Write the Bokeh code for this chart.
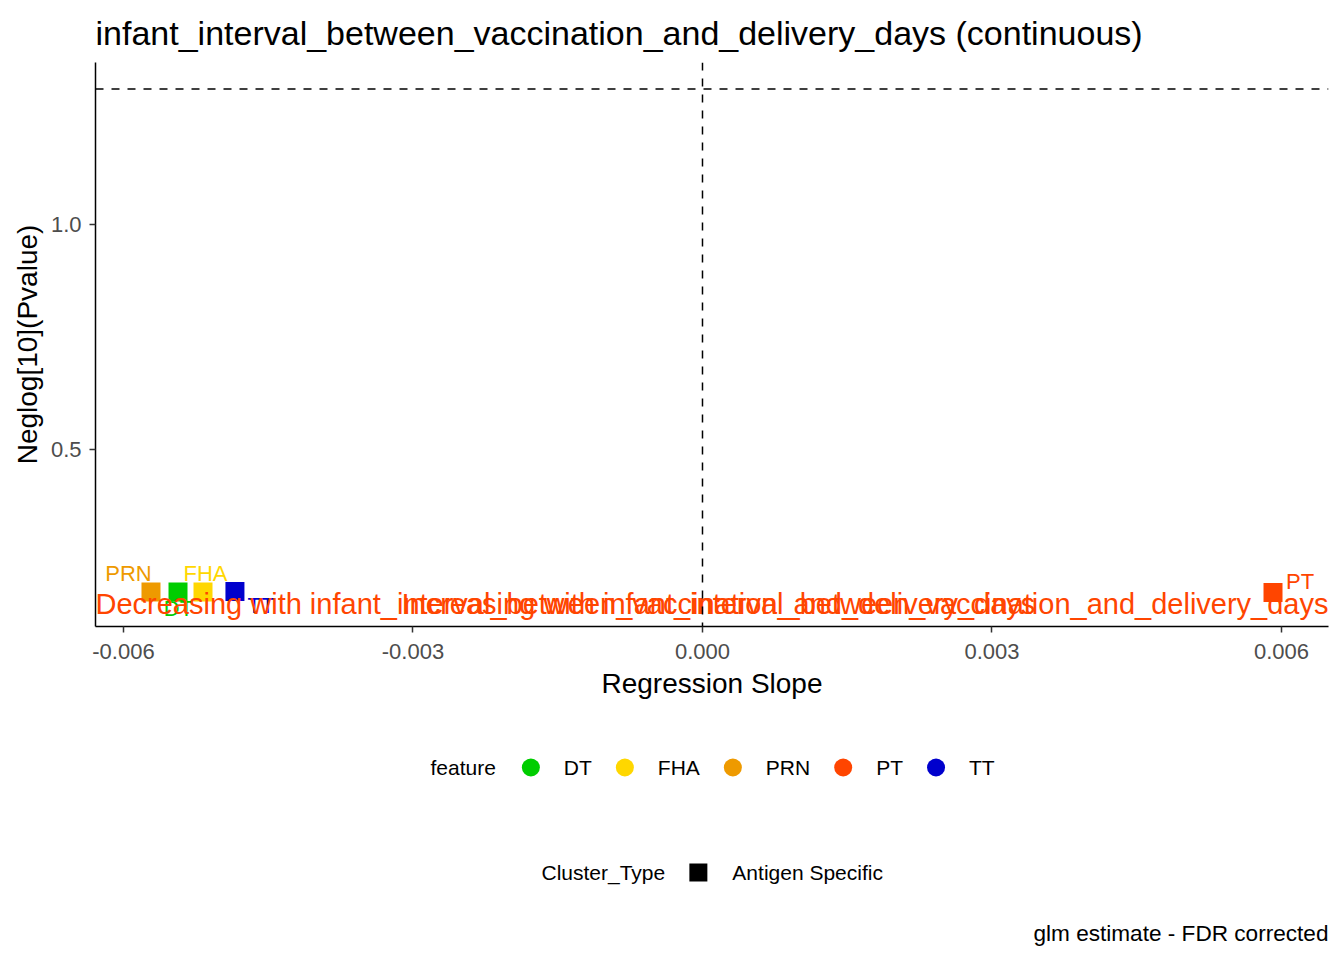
from bokeh.plotting import figure
from bokeh.models import Range1d, FixedTicker, Span, ColumnDataSource
from bokeh.layouts import column
from bokeh.embed import file_html
from bokeh.resources import INLINE
from bokeh.core.properties import value
import math

# ---- data ----
features = ["PRN", "DT", "FHA", "TT", "PT"]
slopes = [-0.005715, -0.005435, -0.005176, -0.004845, 0.005912]
neglog_p = [0.1833, 0.1833, 0.1833, 0.1845, 0.1822]
feature_colors = {"DT": "#00CD00", "FHA": "#FFD700", "PRN": "#EE9A00", "PT": "#FF4500", "TT": "#0000CD"}
legend_features = ["DT", "FHA", "PRN", "PT", "TT"]
x_ticks = [-0.006, -0.003, 0.0, 0.003, 0.006]
x_tick_labels = ["-0.006", "-0.003", "0.000", "0.003", "0.006"]
y_ticks = [0.5, 1.0]
y_tick_labels = ["0.5", "1.0"]
p_threshold = 0.05
var_name = "infant_interval_between_vaccination_and_delivery_days"
annot_y = 0.1556

# repel label offsets (screen px, y down) — layout only
label_dx = {"PRN": -22.5, "DT": 0.5, "FHA": 2.5, "TT": 26, "PT": 27}
label_dy = {"PRN": -18.5, "DT": 16.5, "FHA": -18.5, "TT": 14, "PT": -11}

FONT = "Liberation Sans"
W = 1336
FRAME_L, FRAME_R = 95, 1328
FRAME_T, FRAME_B = 62, 626
H1 = 708

x_range = Range1d(-0.00629, 0.006487)
y_range = Range1d(0.10667, 1.36)

p = figure(width=W, height=H1, x_range=x_range, y_range=y_range,
           output_backend="svg", toolbar_location=None,
           min_border_left=FRAME_L, min_border_right=W - FRAME_R,
           min_border_top=FRAME_T, min_border_bottom=H1 - FRAME_B)
p.title.text = f"{var_name} (continuous)"
p.title.text_font = FONT
p.title.text_font_size = "34px"
p.title.text_font_style = "normal"
p.title.text_color = "black"
p.title.align = "left"
p.title.standoff = 21
p.xgrid.visible = False
p.ygrid.visible = False
p.outline_line_color = None

p.xaxis.ticker = FixedTicker(ticks=x_ticks)
p.xaxis.major_label_overrides = {t: l for t, l in zip(x_ticks, x_tick_labels)}
p.yaxis.ticker = FixedTicker(ticks=y_ticks)
p.yaxis.major_label_overrides = {t: l for t, l in zip(y_ticks, y_tick_labels)}
for ax in (p.xaxis[0], p.yaxis[0]):
    ax.minor_tick_line_color = None
    ax.major_tick_in = 0
    ax.major_tick_out = 6
    ax.major_tick_line_color = "#333333"
    ax.major_tick_line_width = 1.5
    ax.axis_line_color = "black"
    ax.axis_line_width = 1.5
    ax.major_label_text_font = FONT
    ax.major_label_text_font_size = "22px"
    ax.major_label_text_color = "#4D4D4D"
    ax.axis_label_text_font = FONT
    ax.axis_label_text_font_size = "28px"
    ax.axis_label_text_font_style = "normal"
    ax.axis_label_text_color = "black"
p.xaxis.axis_label = "Regression Slope"
p.yaxis.axis_label = "Neglog[10](Pvalue)"
p.xaxis.major_label_standoff = 11
p.xaxis.axis_label_standoff = 6
p.yaxis.major_label_standoff = 8
p.yaxis.axis_label_standoff = 5

p.add_layout(Span(location=0, dimension="height", line_color="black", line_dash="8 8", line_width=1.5))
p.add_layout(Span(location=-math.log10(p_threshold), dimension="width", line_color="black", line_dash="8 8", line_width=1.5))

src = ColumnDataSource(dict(
    x=slopes, y=neglog_p, feature=features,
    color=[feature_colors[f] for f in features],
    dx=[label_dx[f] for f in features], dy=[label_dy[f] for f in features],
))
p.scatter("x", "y", source=src, marker="square", size=19, fill_color="color", line_color=None)
p.text("x", "y", text="feature", source=src, x_offset="dx", y_offset="dy",
       text_color="color", text_font=value(FONT), text_font_size="22px",
       text_align="center", text_baseline="middle")

p.text(x=[x_range.start], y=[annot_y], text=[f"Decreasing with {var_name}"],
       text_color="#FF4500", text_font=value(FONT), text_font_size="29px",
       text_align="left", text_baseline="middle")
p.text(x=[x_range.end], y=[annot_y], text=[f"Increasing with {var_name}"],
       text_color="#FF4500", text_font=value(FONT), text_font_size="29px",
       text_align="right", text_baseline="middle")

# ---- legend / caption panel (coordinates in page pixels) ----
H2 = 244
q = figure(width=W, height=H2, x_range=Range1d(FRAME_L, FRAME_R), y_range=Range1d(H1 + H2, H1),
           output_backend="svg", toolbar_location=None,
           min_border_left=FRAME_L, min_border_right=W - FRAME_R, min_border_top=0, min_border_bottom=0,
           outline_line_color=None)
q.axis.visible = False
q.grid.visible = False

ARIAL = {" ": 0.278, "_": 0.556, "f": 0.278, "t": 0.278, "i": 0.222, "l": 0.222, "r": 0.333,
         "v": 0.5, "y": 0.5, "c": 0.5, "s": 0.5, "k": 0.5, "x": 0.5, "z": 0.5, "w": 0.722, "m": 0.833,
         "D": 0.722, "T": 0.611, "F": 0.611, "H": 0.722, "A": 0.667, "P": 0.667, "R": 0.722,
         "N": 0.722, "C": 0.722, "S": 0.667}

def tw(s, size):
    return sum(ARIAL.get(c, 0.556) for c in s) * size

LEG_FS = 21
def ltext(x, y, s, size=LEG_FS, align="left"):
    q.text(x=[x], y=[y], text=[s], text_font=value(FONT), text_font_size=f"{size}px",
           text_align=align, text_baseline="middle", text_color="black")

row1_y = 767
x = 430
ltext(x, row1_y, "feature")
x += tw("feature", LEG_FS) + 35
for f in legend_features:
    q.scatter(x=[x], y=[row1_y], marker="circle", size=18, fill_color=feature_colors[f], line_color=None)
    ltext(x + 33, row1_y, f)
    x += 33 + tw(f, LEG_FS) + 33

row2_y = 872
x = 541
ltext(x, row2_y, "Cluster_Type")
x += tw("Cluster_Type", LEG_FS) + 32
q.scatter(x=[x], y=[row2_y], marker="square", size=18, fill_color="black", line_color=None)
ltext(x + 34, row2_y, "Antigen Specific")

ltext(FRAME_R, 933, "glm estimate - FDR corrected", size=22.6, align="right")

layout = column(p, q, spacing=0)
open("out.html", "w").write(file_html(layout, INLINE))
